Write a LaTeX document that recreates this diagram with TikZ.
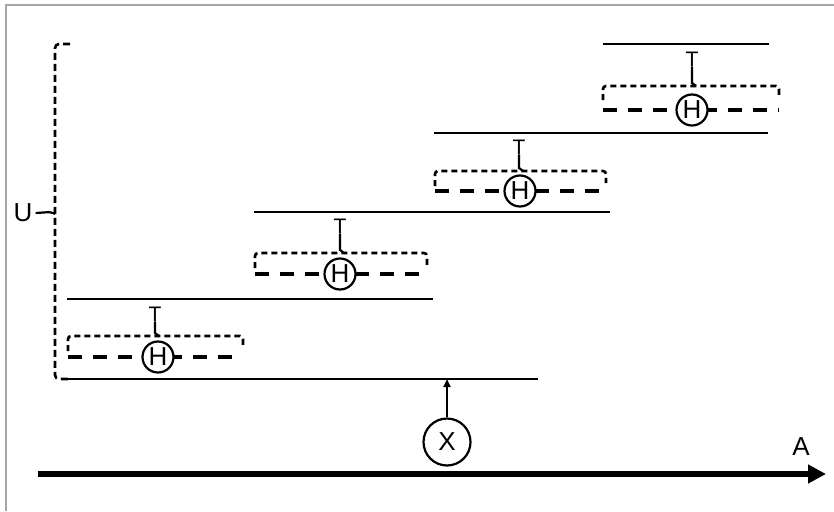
\documentclass[tikz,border=0pt]{standalone}
\usepackage{fontspec}
\setmainfont{Liberation Sans}
\usetikzlibrary{arrows.meta}
\newcommand\lblfont{\fontsize{26}{30}\selectfont}
\newcommand\tfont{\fontsize{21}{24}\selectfont}
\begin{document}
\begin{tikzpicture}[x=1pt,y=-1pt,
  lbl/.style={font=\lblfont, inner sep=0pt},
  tlbl/.style={font=\tfont, inner sep=0pt},
  hcirc/.style={circle, draw, line width=2.2pt, fill=white, minimum size=31pt, inner sep=0pt, font=\lblfont},
  xcirc/.style={circle, draw, line width=2.2pt, fill=white, minimum size=47pt, inner sep=0pt, font=\lblfont},
  stepline/.style={line width=2.6pt},
  topdash/.style={line width=2.6pt, dash pattern=on 6pt off 4pt, rounded corners=3pt},
  botdash/.style={line width=3.6pt, dash pattern=on 14pt off 11pt},
  tlink/.style={line width=2.2pt},
  frameline/.style={draw=gray!70, line width=1.8pt}
]
\useasboundingbox (0,0) rectangle (834,511);
\draw[frameline] (6,511) -- (6,5) -- (834,5);

% bottom axis
\coordinate (a0) at (38,474);
\coordinate (a1) at (826,474);
\draw[line width=6.5pt, -{Triangle[length=18pt,width=18pt]}] (a0) -- (a1);
\node[lbl] (A) at (801,447) {A};

% base line
\coordinate (b0) at (68,379);
\coordinate (b1) at (538,379);
\draw[stepline] (b0) -- (b1);
\node[xcirc] (X) at (447,442) {X};
\coordinate (xt) at (447,379);
\draw[line width=2.2pt, -{Triangle[length=8pt,width=7pt]}] (X) -- (xt);

% bracket U
\coordinate (br0) at (70,44);
\coordinate (br1) at (70,379);
\coordinate (brm) at (55,214);
\draw[line width=2.6pt, dash pattern=on 7pt off 4pt, rounded corners=4pt] (br0) -- (55,44) -- (55,379) -- (br1);
\node[lbl] (U) at (23,213) {U};
\draw[line width=2.2pt, rounded corners=2pt] (U.east) ++(3,0) -- (51,212) -- (brm);

% step 1
\coordinate (s1a) at (67,299); \coordinate (s1b) at (433,299);
\draw[stepline] (s1a) -- (s1b);
\draw[topdash] (68,351) -- (68,336) -- (243,336) -- (243,348);
\coordinate (d1a) at (68,357); \coordinate (d1b) at (243,357);
\draw[botdash] (d1a) -- (d1b);
\node[hcirc] (H1) at (158,357) {H};
\node[tlbl] (T1) at (155,314) {T};
\draw[tlink] (T1.south) -- (155,333) -- (159,336);

% step 2
\coordinate (s2a) at (254,212); \coordinate (s2b) at (610,212);
\draw[stepline] (s2a) -- (s2b);
\draw[topdash] (255,268) -- (255,253) -- (427,253) -- (427,265);
\coordinate (d2a) at (255,274); \coordinate (d2b) at (427,274);
\draw[botdash] (d2a) -- (d2b);
\node[hcirc] (H2) at (340,274) {H};
\node[tlbl] (T2) at (340,226) {T};
\draw[tlink] (T2.south) -- (340,250) -- (344,253);

% step 3
\coordinate (s3a) at (434,133); \coordinate (s3b) at (768,133);
\draw[stepline] (s3a) -- (s3b);
\draw[topdash] (435,186) -- (435,171) -- (606,171) -- (606,183);
\coordinate (d3a) at (435,191); \coordinate (d3b) at (606,191);
\draw[botdash] (d3a) -- (d3b);
\node[hcirc] (H3) at (520,191) {H};
\node[tlbl] (T3) at (519,147) {T};
\draw[tlink] (T3.south) -- (519,168) -- (523,171);

% step 4
\coordinate (s4a) at (603,44); \coordinate (s4b) at (769,44);
\draw[stepline] (s4a) -- (s4b);
\draw[topdash] (603,100) -- (603,86) -- (779,86) -- (779,98);
\coordinate (d4a) at (603,110); \coordinate (d4b) at (779,110);
\draw[botdash] (d4a) -- (d4b);
\node[hcirc] (H4) at (692,110) {H};
\node[tlbl] (T4) at (692,59) {T};
\draw[tlink] (T4.south) -- (692,83) -- (696,86);
\end{tikzpicture}
\end{document}
